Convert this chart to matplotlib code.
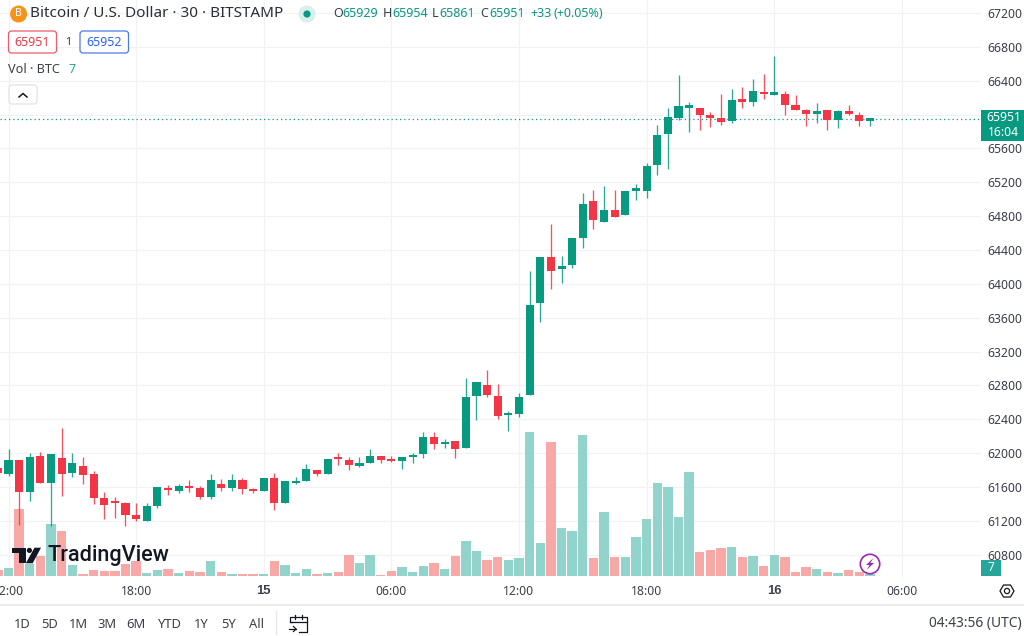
import matplotlib
matplotlib.use("Agg")
import matplotlib.pyplot as plt
from matplotlib.patches import Circle, Polygon, Rectangle, FancyBboxPatch

plt.rcParams['font.family'] = ['Noto Sans', 'DejaVu Sans']

# ---------- data: 30-minute candles, first bar just left of 12:00 on the 14th ----------
opens = [61831,61753,61922,61544,61973,61654,61945,61772,61851,61753,61470,61422,61411,61269,61202,61371,61584,61556,61599,61584,61481,61642,61587,61686,61580,61552,61709,61411,61650,61670,61800,61753,61941,61925,61851,61882,61969,61929,61906,61953,61992,62197,62110,62142,
         62062,62676,62810,62680,62448,62468,62687,63777,64319,64173,64228,64543,64983,64735,64869,64814,65097,65101,65404,65769,65961,66083,66076,66000,65961,65918,66174,66147,66268,66236,66241,66111,66059,66005,66048,65930,66036,65993,65929]
highs = [61840,62055,61922,62000,62020,61988,62295,62000,61961,61792,61544,61477,61419,61411,61407,61603,61627,61631,61686,61615,61760,61690,61753,61705,61595,61705,61764,61670,61725,61867,61800,61929,62000,61953,61953,62055,61969,61969,61953,62008,62256,62256,62165,62146,
         62893,62841,62987,62814,62495,62707,64158,64314,64708,64334,64543,65074,65104,65151,65104,65101,65180,65427,65875,66076,66468,66150,66076,66036,66241,66300,66331,66421,66476,66693,66284,66229,66067,66135,66048,66056,66115,66032,65954]
lows = [61750,61733,61151,61438,61654,61143,61489,61721,61635,61399,61222,61238,61143,61202,61202,61356,61505,61532,61544,61458,61454,61556,61552,61517,61532,61552,61332,61411,61642,61666,61729,61753,61863,61804,61839,61882,61886,61902,61819,61886,61949,62047,62063,61941,
        62062,62389,62660,62409,62263,62433,62687,63548,63945,64013,64189,64425,64645,64735,64794,64814,64995,65018,65281,65352,65938,65796,65820,65852,65882,65899,66079,66106,66182,66236,65997,66059,65867,65906,65812,65844,65989,65867,65861]
closes = [61764,61922,61544,61957,61654,61988,61753,61882,61745,61470,61387,61415,61269,61222,61379,61603,61560,61607,61584,61481,61686,61584,61678,61572,61548,61705,61415,61670,61670,61811,61753,61929,61929,61859,61882,61973,61918,61906,61953,61984,62189,62114,62134,62047,
          62668,62841,62684,62444,62463,62668,63753,64314,64158,64208,64543,64948,64751,64869,64794,65101,65133,65396,65753,65970,66103,66103,65997,65961,65914,66174,66154,66280,66244,66264,66115,66059,66008,66040,65930,66040,66012,65918,65951]
volumes = [17,24,200,34,59,155,135,32,6,18,14,14,35,45,8,18,21,9,14,12,45,11,5,5,5,5,44,32,7,20,4,8,11,63,39,63,2,14,26,11,29,38,20,60,
           105,74,48,56,48,52,430,97,402,143,135,422,53,190,56,57,116,169,277,266,175,310,70,76,83,87,57,58,29,62,57,12,27,20,12,7,17,12,4]
first_index = -1
price_ticks = [67200,66800,66400,66000,65600,65200,64800,64400,64000,63600,63200,62800,62400,62000,61600,61200,60800]
time_ticks = [0,12,24,36,48,60,72,84]
time_labels = ['12:00','18:00','15','06:00','12:00','18:00','16','06:00']
day_labels = ['15','16']
last_price = 65951

GREEN = '#089981'; RED = '#f23645'
VGREEN = '#92d3cb'; VRED = '#f9a8a8'
GRID = '#f1f2f4'; INK = '#131722'; SOFT = '#3b3f4a'
W, H = 1024, 636

fig = plt.figure(figsize=(W / 100, H / 100), dpi=100, facecolor='white')
rect = [0, 1 - 577 / H, 981 / W, 577 / H]

xs = [first_index + k for k in range(len(opens))]
xlim = (-0.80, 91.44)

# grid
axg = fig.add_axes(rect, zorder=0)
axg.set_xlim(*xlim); axg.set_ylim(60538, 67353)
axg.set_xticks(time_ticks); axg.set_yticks(price_ticks)
axg.grid(True, color=GRID, lw=0.9)
axg.tick_params(left=False, bottom=False, labelleft=False, labelbottom=False)
for s in axg.spines.values():
    s.set_visible(False)

# volume pane (behind)
axv = fig.add_axes(rect, zorder=1)
axv.set_xlim(*xlim); axv.set_ylim(-4, 1727)
axv.axis('off')
axv.bar(xs, volumes, width=0.88, color=[VGREEN if c >= o else VRED for o, c in zip(opens, closes)], linewidth=0)

# price pane
ax = fig.add_axes(rect, zorder=2)
ax.patch.set_alpha(0)
ax.set_xlim(*xlim); ax.set_ylim(60538, 67353)
for s in ax.spines.values():
    s.set_visible(False)

ax.yaxis.tick_right()
ax.set_yticks(price_ticks)
ax.set_yticklabels(['' if p == 66000 else str(p) for p in price_ticks])
ax.set_xticks(time_ticks)
ax.set_xticklabels(time_labels)
ax.tick_params(axis='both', length=0, labelsize=8.8, labelcolor=SOFT)
ax.tick_params(axis='y', pad=4.8)
ax.tick_params(axis='x', pad=6)
for t in ax.get_xticklabels():
    if t.get_text() in day_labels:
        t.set_fontfamily('Liberation Sans')
        t.set_fontweight('bold')
        t.set_fontsize(9.4)

ax.axhline(last_price, color=GREEN, lw=0.9, ls=(0, (1, 2.4)), zorder=1)
for x, o, h, l, c in zip(xs, opens, highs, lows, closes):
    col = GREEN if c >= o else RED
    ax.vlines(x, l, h, color=col, lw=0.95, alpha=0.85, zorder=2)
    bottom = min(o, c)
    ax.bar(x, max(abs(c - o), 25), bottom=bottom, width=0.76, color=col, linewidth=0, zorder=3)

# ---------- interface overlay, in figure pixels ----------
ui = fig.add_axes([0, 0, 1, 1], zorder=5)
ui.set_xlim(0, W); ui.set_ylim(H, 0)
ui.axis('off'); ui.patch.set_alpha(0)

def T(x, y, s, size=9.4, color=INK, ha='left', **kw):
    ui.text(x, y, s, fontsize=size, color=color, ha=ha, va='center', **kw)

# header
ui.add_patch(Circle((18.6, 14), 8.5, color='#f7931a', lw=0))
T(18.6, 14, 'B', size=7.5, color='white', ha='center', fontweight='bold')
T(30.5, 13.5, 'Bitcoin / U.S. Dollar · 30 · BITSTAMP', size=11.0, color='#2a2e39')
ui.add_patch(Circle((307, 14), 8.5, color='#d9efeb', lw=0))
ui.add_patch(Circle((307, 14), 3.6, color=GREEN, lw=0))
for x, s, c in [(333, 'O', SOFT), (342.5, '65929', GREEN), (383, 'H', SOFT), (392, '65954', GREEN),
                (432, 'L', SOFT), (439.5, '65861', GREEN), (480, 'C', SOFT), (489.5, '65951', GREEN),
                (530, '+33', GREEN), (554, '(+0.05%)', GREEN)]:
    T(x, 13.5, s, size=9.0, color=c)

# bid/ask
ui.add_patch(FancyBboxPatch((8.5, 31), 48, 22, boxstyle='round,pad=0,rounding_size=3', fc='white', ec='#ef5a6a', lw=0.9))
T(32.5, 42, '65951', size=8.9, color=RED, ha='center')
T(68, 42.5, '1', size=7.8, color=SOFT, ha='center')
ui.add_patch(FancyBboxPatch((80, 31), 48.5, 22, boxstyle='round,pad=0,rounding_size=3', fc='white', ec='#4a7bea', lw=0.9))
T(104.5, 42, '65952', size=8.9, color='#2962ff', ha='center')

# volume legend
T(8.5, 69.5, 'Vol · BTC', size=9.1, color=SOFT)
T(72.5, 69.5, '7', size=9.1, color='#22ab94', ha='center')
ui.add_patch(FancyBboxPatch((9, 85), 28, 19, boxstyle='round,pad=0,rounding_size=3', fc='white', ec='#e0e3eb', lw=0.9))
ui.plot([19, 23, 27], [97, 93.5, 97], color=INK, lw=1.1)

# price tag
ui.add_patch(Rectangle((981, 109.5), 43, 31, color=GREEN, lw=0))
T(1004, 117.5, '65951', size=8.8, color='white', ha='center')
T(1004, 132.5, '16:04', size=8.8, color='white', ha='center')

# volume tag
ui.add_patch(Rectangle((981, 559.5), 20, 16.5, color='#26a69a', lw=0))
T(991, 567.5, '7', size=8.7, color='white', ha='center')

# TradingView logo
ui.add_patch(Rectangle((12, 547.7), 13.5, 5, color=INK, lw=0))
ui.add_patch(Rectangle((19, 552), 6.5, 11.3, color=INK, lw=0))
ui.add_patch(Circle((29.4, 550.4), 2.6, color=INK, lw=0))
ui.add_patch(Polygon([(34.5, 547.7), (41, 547.7), (32.7, 563.3), (25.8, 563.3)], color=INK, lw=0))
T(47.5, 555.5, 'TradingView', size=15.6, color=INK, family='Roboto', fontweight='medium')

# lightning badge
ui.add_patch(Circle((870, 564), 9.7, fc='white', ec='#9c27b0', lw=1.2))
ui.add_patch(Polygon([(873.5, 558), (866, 565), (869.6, 565), (866.5, 570), (874, 563), (870.4, 563)], color='#9c27b0', lw=0))

# axis settings icon
hexa = [(1000, 591), (1003.5, 585), (1010.5, 585), (1014, 591), (1010.5, 597), (1003.5, 597)]
ui.add_patch(Polygon(hexa, fc='white', ec=INK, lw=0.9))
ui.add_patch(Circle((1007, 591), 2.6, fc='white', ec=INK, lw=0.9))

# bottom toolbar
ui.plot([0, W], [605, 605], color='#e6e8ec', lw=1.2)
for x, s in [(22, '1D'), (49.5, '5D'), (78.5, '1M'), (107, '3M'), (136, '6M'), (169.5, 'YTD'), (201.5, '1Y'), (229, '5Y'), (256.5, 'All')]:
    T(x, 624.5, s, size=9.3, color=SOFT, ha='center')
ui.plot([275.5, 275.5], [611, 634], color='#e6e8ec', lw=1)
ui.plot([292, 290, 290, 307, 307, 299], [622, 622, 617, 617, 632, 632], color=INK, lw=0.9)
ui.plot([290, 307], [622, 622], color=INK, lw=0.9)
ui.plot([295, 295], [615, 619], color=INK, lw=0.9)
ui.plot([302, 302], [615, 619], color=INK, lw=0.9)
ui.plot([289, 296], [629, 629], color=INK, lw=0.9)
ui.plot([293.5, 296, 293.5], [626.5, 629, 631.5], color=INK, lw=0.9)
T(1022, 624, '04:43:56 (UTC)', size=9.9, color=SOFT, ha='right')

fig.savefig('out.png', dpi=100)
